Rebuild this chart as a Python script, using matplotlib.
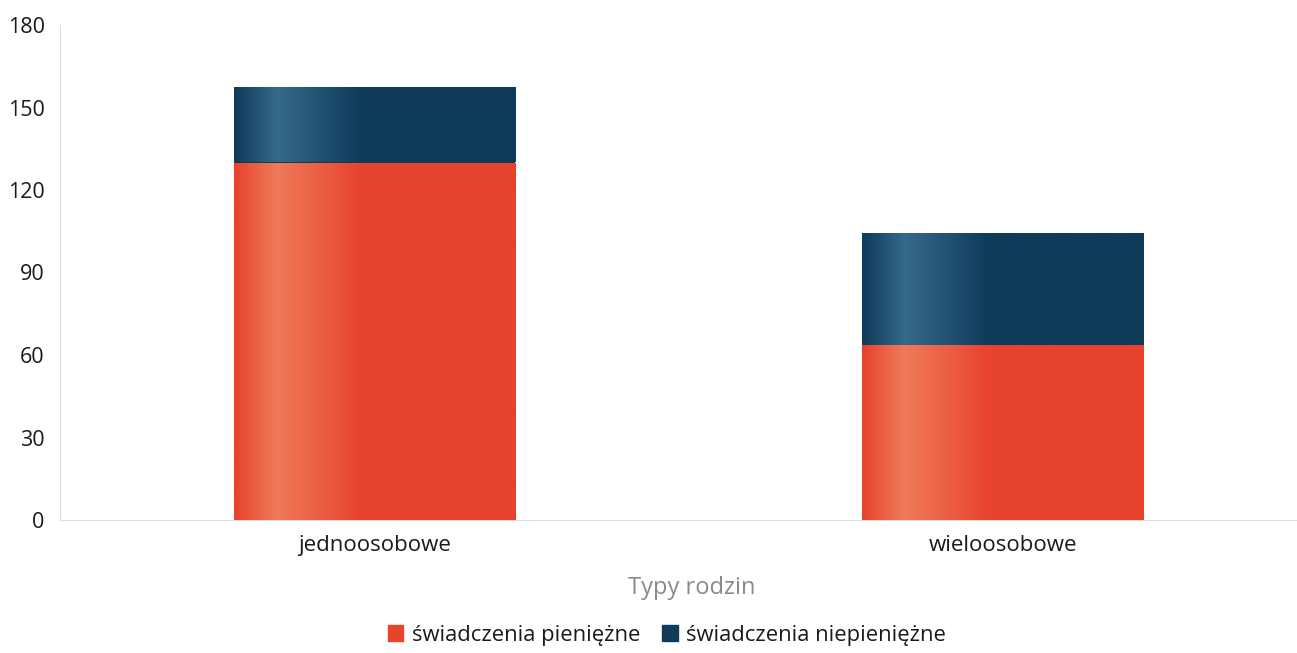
import numpy as np
import matplotlib
matplotlib.use("Agg")
import matplotlib.pyplot as plt
from matplotlib.colors import LinearSegmentedColormap

plt.rcParams['font.family'] = ['Open Sans', 'DejaVu Sans']

categories = ['jednoosobowe', 'wieloosobowe']
pieniezne = [130, 63.5]
niepieniezne = [27.5, 41]
series_names = ['świadczenia pieniężne', 'świadczenia niepieniężne']
y_ticks = [0, 30, 60, 90, 120, 150, 180]

red = '#e8432c'
blue = '#0f3a5a'

fig = plt.figure(figsize=(12.97, 6.53), dpi=100)
ax = fig.add_axes([60 / 1297, 133 / 653, 1237 / 1297, 495 / 653])

x = np.arange(len(categories))
width = 0.448
bars_red = ax.bar(x, pieniezne, width, color=red, label=series_names[0], zorder=2)
bars_blue = ax.bar(x, niepieniezne, width, bottom=pieniezne, color=blue,
                   label=series_names[1], zorder=2)

# soft vertical highlight like the original gradient fill
def shade(bars, dark, light):
    cmap = LinearSegmentedColormap.from_list('g', [dark, light, dark, dark])
    grad = np.concatenate([np.linspace(0, 0.33, 30), np.linspace(0.33, 0.66, 60),
                           np.linspace(0.66, 1, 110)])[None, :]
    for b in bars:
        x0, y0 = b.get_x(), b.get_y()
        im = ax.imshow(grad, cmap=cmap, aspect='auto', zorder=3,
                       extent=[x0, x0 + b.get_width(), y0, y0 + b.get_height()])
        im.set_clip_path(b)

shade(bars_red, red, '#ef7a58')
shade(bars_blue, blue, '#35698a')

ax.set_xlim(-0.5, 1.467)
ax.set_ylim(0, 180)
ax.set_yticks(y_ticks)
ax.set_xticks(x)
ax.set_xticklabels(categories)
ax.tick_params(axis='y', length=0, pad=11, labelsize=15.5, labelcolor='#1a1a1a')
ax.tick_params(axis='x', length=0, pad=11, labelsize=16, labelcolor='#1a1a1a')
for s in ['top', 'right']:
    ax.spines[s].set_visible(False)
ax.spines['left'].set_color('#dddddd')
ax.spines['bottom'].set_color('#dddddd')

fig.text(692 / 1297, 1 - 588 / 653, 'Typy rodzin', ha='center', va='center',
         fontsize=17, color='#8a8a8a')

handles = [plt.Rectangle((0, 0), 1, 1, color=red), plt.Rectangle((0, 0), 1, 1, color=blue)]
fig.legend(handles, series_names, loc='center', bbox_to_anchor=(667 / 1297, 1 - 635 / 653),
           ncol=2, frameon=False, fontsize=15.8, handlelength=0.7, handleheight=0.7,
           handletextpad=0.4, columnspacing=1.0, labelcolor='#1a1a1a')

fig.savefig('out.png', dpi=100)
